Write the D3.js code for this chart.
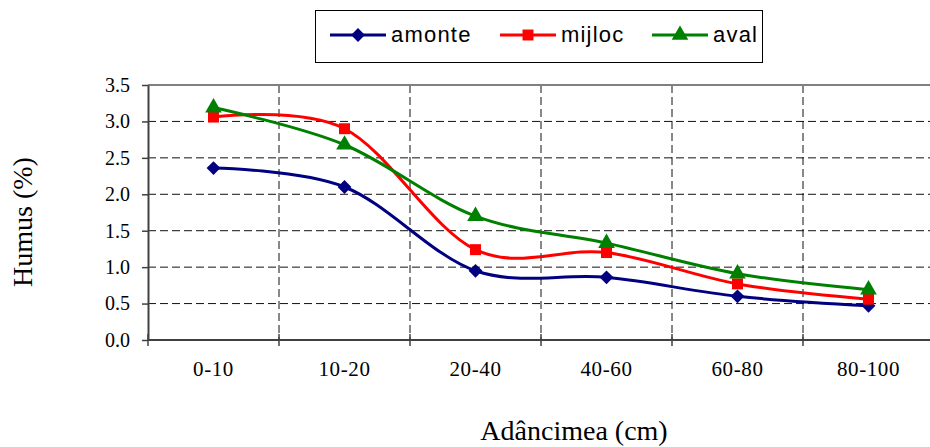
<!DOCTYPE html>
<html lang="ro">
<head>
<meta charset="UTF-8">
<title>Humus</title>
<script src="https://d3js.org/d3.v7.min.js"></script>
<style>
  body { margin: 0; background: #fff; }
  svg { display: block; }
</style>
</head>
<body>
<div id="chart"></div>
<script>
// data
const categories = ["0-10", "10-20", "20-40", "40-60", "60-80", "80-100"];
const amonte = [2.36, 2.10, 0.95, 0.86, 0.60, 0.47];
const mijloc = [3.06, 2.90, 1.24, 1.20, 0.77, 0.56];
const aval = [3.19, 2.68, 1.70, 1.33, 0.91, 0.69];
const yTicks = [0, 0.5, 1, 1.5, 2, 2.5, 3, 3.5];

const series = [
  { name: "amonte", values: amonte, color: "#000080", symbol: d3.symbolSquare, size: 95, rotate: 45 },
  { name: "mijloc", values: mijloc, color: "#ff0000", symbol: d3.symbolSquare, size: 120, rotate: 0 },
  { name: "aval", values: aval, color: "#008000", symbol: d3.symbolTriangle, size: 120, rotate: 0 }
];

const width = 930, height = 447;
const plotLeft = 148, plotRight = 934, plotTop = 85, plotBottom = 340;

const svg = d3.select("#chart").append("svg")
  .attr("width", width)
  .attr("height", height);

const x = d3.scaleBand().domain(categories).range([plotLeft, plotRight]);
const y = d3.scaleLinear().domain([0, 3.5]).range([plotBottom, plotTop]);
const cx = c => x(c) + x.bandwidth() / 2;

// horizontal grid
svg.append("g")
  .selectAll("line")
  .data(yTicks.filter(t => t > 0 && t < 3.5))
  .enter().append("line")
  .attr("x1", plotLeft).attr("x2", plotRight)
  .attr("y1", d => y(d)).attr("y2", d => y(d))
  .attr("stroke", "#111")
  .attr("stroke-width", 1)
  .attr("stroke-dasharray", "8,4");

// vertical grid at the category boundaries
svg.append("g")
  .selectAll("line")
  .data(categories.slice(1))
  .enter().append("line")
  .attr("x1", d => x(d)).attr("x2", d => x(d))
  .attr("y1", plotTop).attr("y2", plotBottom)
  .attr("stroke", "#111")
  .attr("stroke-width", 1)
  .attr("stroke-dasharray", "8,4");

// plot border top
svg.append("line")
  .attr("x1", plotLeft).attr("x2", plotRight)
  .attr("y1", plotTop).attr("y2", plotTop)
  .attr("stroke", "#808080").attr("stroke-width", 2);

// y axis
const yAxis = svg.append("g")
  .attr("transform", `translate(${plotLeft},0)`)
  .call(d3.axisLeft(y).tickValues(yTicks).tickFormat(d3.format(".1f")).tickSizeInner(6).tickSizeOuter(0).tickPadding(12));
yAxis.select(".domain").attr("stroke", "#404040").attr("stroke-width", 2);
yAxis.selectAll(".tick line").attr("stroke", "#404040").attr("stroke-width", 1.5);
yAxis.selectAll(".tick text")
  .attr("font-family", "'Liberation Serif', 'Times New Roman', serif")
  .attr("font-size", 20)
  .attr("fill", "#000");

// x axis: ticks at category boundaries, labels at centers
const xg = svg.append("g");
xg.append("line")
  .attr("x1", plotLeft).attr("x2", plotRight)
  .attr("y1", plotBottom).attr("y2", plotBottom)
  .attr("stroke", "#404040").attr("stroke-width", 2);
xg.selectAll("line.tick")
  .data(categories)
  .enter().append("line")
  .attr("class", "tick")
  .attr("x1", d => x(d)).attr("x2", d => x(d))
  .attr("y1", plotBottom - 6).attr("y2", plotBottom + 6)
  .attr("stroke", "#404040").attr("stroke-width", 1.5);
xg.selectAll("text")
  .data(categories)
  .enter().append("text")
  .attr("x", d => cx(d))
  .attr("y", 376)
  .attr("text-anchor", "middle")
  .attr("font-family", "'Liberation Serif', 'Times New Roman', serif")
  .attr("font-size", 21)
  .attr("letter-spacing", 0.6)
  .attr("fill", "#000")
  .text(d => d);

// titles
svg.append("text")
  .attr("transform", "translate(32,222) rotate(-90)")
  .attr("text-anchor", "middle")
  .attr("font-family", "'Liberation Serif', 'Times New Roman', serif")
  .attr("font-size", 28)
  .text("Humus (%)");

svg.append("text")
  .attr("x", 574)
  .attr("y", 440)
  .attr("text-anchor", "middle")
  .attr("font-family", "'Liberation Serif', 'Times New Roman', serif")
  .attr("font-size", 28)
  .text("Adâncimea (cm)");

// lines
const line = d3.line()
  .x((d, i) => cx(categories[i]))
  .y(d => y(d))
  .curve(d3.curveCatmullRom.alpha(0));

series.forEach(s => {
  svg.append("path")
    .datum(s.values)
    .attr("fill", "none")
    .attr("stroke", s.color)
    .attr("stroke-width", 3)
    .attr("d", line);
});

series.forEach(s => {
  svg.append("g")
    .selectAll("path")
    .data(s.values)
    .enter().append("path")
    .attr("transform", (d, i) => `translate(${cx(categories[i])},${y(d)}) rotate(${s.rotate})`)
    .attr("d", d3.symbol().type(s.symbol).size(s.size))
    .attr("fill", s.color);
});

// legend
const legend = svg.append("g");
legend.append("rect")
  .attr("x", 315.5).attr("y", 10.5)
  .attr("width", 447).attr("height", 52)
  .attr("fill", "#fff")
  .attr("stroke", "#000").attr("stroke-width", 1);

const legendX = [330, 500, 652];
series.forEach((s, i) => {
  const g = legend.append("g").attr("transform", `translate(${legendX[i]},35)`);
  g.append("line")
    .attr("x1", 0).attr("x2", 56)
    .attr("stroke", s.color).attr("stroke-width", 3);
  g.append("path")
    .attr("transform", `translate(28,0) rotate(${s.rotate})`)
    .attr("d", d3.symbol().type(s.symbol).size(s.size))
    .attr("fill", s.color);
  g.append("text")
    .attr("x", 61)
    .attr("y", 7)
    .attr("font-family", "'Liberation Sans', Arial, sans-serif")
    .attr("font-size", 22)
    .attr("letter-spacing", 1.2)
    .attr("fill", "#000")
    .text(s.name);
});
</script>
</body>
</html>
